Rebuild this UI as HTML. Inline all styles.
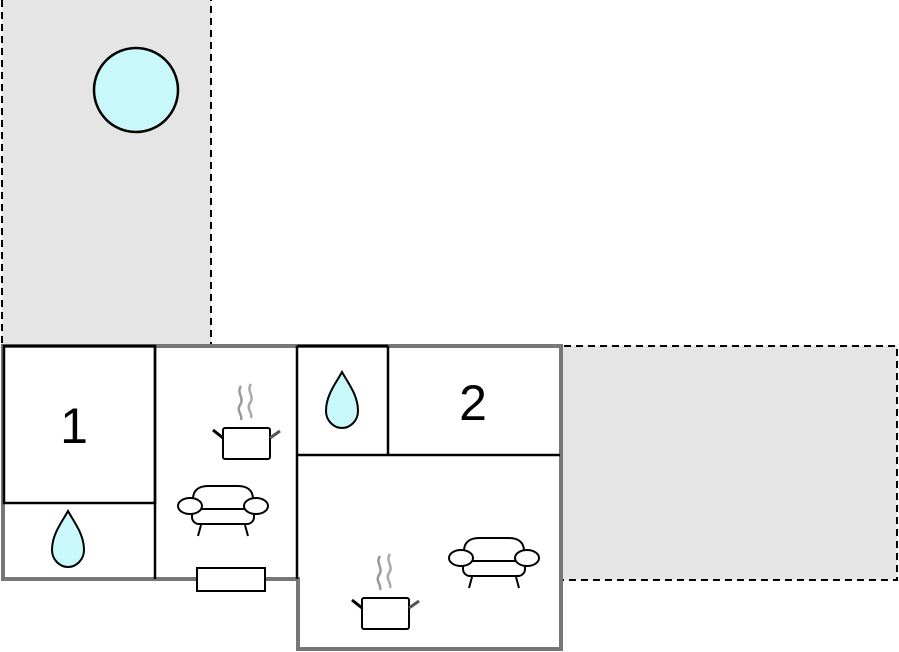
<!DOCTYPE html>
<html><head><style>html,body{margin:0;padding:0;background:#fff}svg{display:block}</style></head>
<body>
<svg width="899" height="652" viewBox="0 0 899 652" xmlns="http://www.w3.org/2000/svg">
<defs>
<g id="drop"><path d="M0,-29 C-6,-18 -16,-6 -16,10 C-16,20 -8,27 0,27 C8,27 16,20 16,10 C16,-6 6,-18 0,-29 Z" fill="#c8f8fa" stroke="#000" stroke-width="2"/></g>
<g id="pot">
<path d="M18,-42 C13,-35 22,-30 17,-23 C13,-17 20,-13 18,-8" fill="none" stroke="#999" stroke-width="2.5"/>
<path d="M28,-44 C23,-37 32,-32 27,-25 C23,-19 30,-15 28,-10" fill="none" stroke="#aaa" stroke-width="2.5"/>
<rect x="0" y="0" width="47" height="31" rx="2" fill="#fff" stroke="#000" stroke-width="2"/>
<line x1="0" y1="10" x2="-10" y2="2" stroke="#000" stroke-width="3"/>
<line x1="47" y1="10" x2="57" y2="3" stroke="#555" stroke-width="3"/>
</g>
<g id="sofa">
<line x1="-22" y1="16" x2="-25" y2="27" stroke="#000" stroke-width="2"/>
<line x1="22" y1="16" x2="25" y2="27" stroke="#000" stroke-width="2"/>
<path d="M-30,0 L-30,-10 C-30,-18 -25,-23 -15,-23 L15,-23 C25,-23 30,-18 30,-10 L30,0" fill="#fff" stroke="#000" stroke-width="2"/>
<rect x="-31" y="0" width="62" height="15" rx="7" fill="#fff" stroke="#000" stroke-width="2"/>
<ellipse cx="-33" cy="-3" rx="12" ry="8" fill="#fff" stroke="#000" stroke-width="2"/>
<ellipse cx="33" cy="-3" rx="12" ry="8" fill="#fff" stroke="#000" stroke-width="2"/>
</g>
</defs>
<rect x="2" y="-1" width="209" height="347" fill="#e5e5e5" stroke="#000" stroke-width="2" stroke-dasharray="7,5"/>
<circle cx="136" cy="90" r="42" fill="#c8f8fa" stroke="#000" stroke-width="2.5"/>
<rect x="540" y="346" width="357" height="234" fill="#e5e5e5" stroke="#000" stroke-width="2" stroke-dasharray="7,5"/>
<path d="M3,346 L561,346 L561,649 L298,649 L298,579 L3,579 Z" fill="#fff" stroke="#777" stroke-width="4"/>
<rect x="4" y="346" width="151" height="157" fill="none" stroke="#000" stroke-width="2.5"/>
<line x1="155" y1="346" x2="155" y2="579" stroke="#000" stroke-width="2.5"/>
<line x1="297" y1="346" x2="297" y2="579" stroke="#000" stroke-width="2.5"/>
<line x1="297" y1="346" x2="388" y2="346" stroke="#000" stroke-width="2.5"/>
<line x1="388" y1="346" x2="388" y2="455" stroke="#000" stroke-width="2.5"/>
<line x1="297" y1="455" x2="560" y2="455" stroke="#000" stroke-width="2.5"/>
<rect x="197" y="568" width="68" height="23" fill="#fff" stroke="#000" stroke-width="2"/>
<text x="74" y="443" font-family="Liberation Sans, sans-serif" font-size="50" text-anchor="middle">1</text>
<text x="473" y="420" font-family="Liberation Sans, sans-serif" font-size="50" text-anchor="middle">2</text>
<use href="#drop" x="68" y="540"/>
<use href="#drop" x="342" y="401"/>
<use href="#pot" x="223" y="428"/>
<use href="#pot" x="362" y="598"/>
<use href="#sofa" x="223" y="509"/>
<use href="#sofa" x="494" y="561"/>
</svg>
</body></html>
